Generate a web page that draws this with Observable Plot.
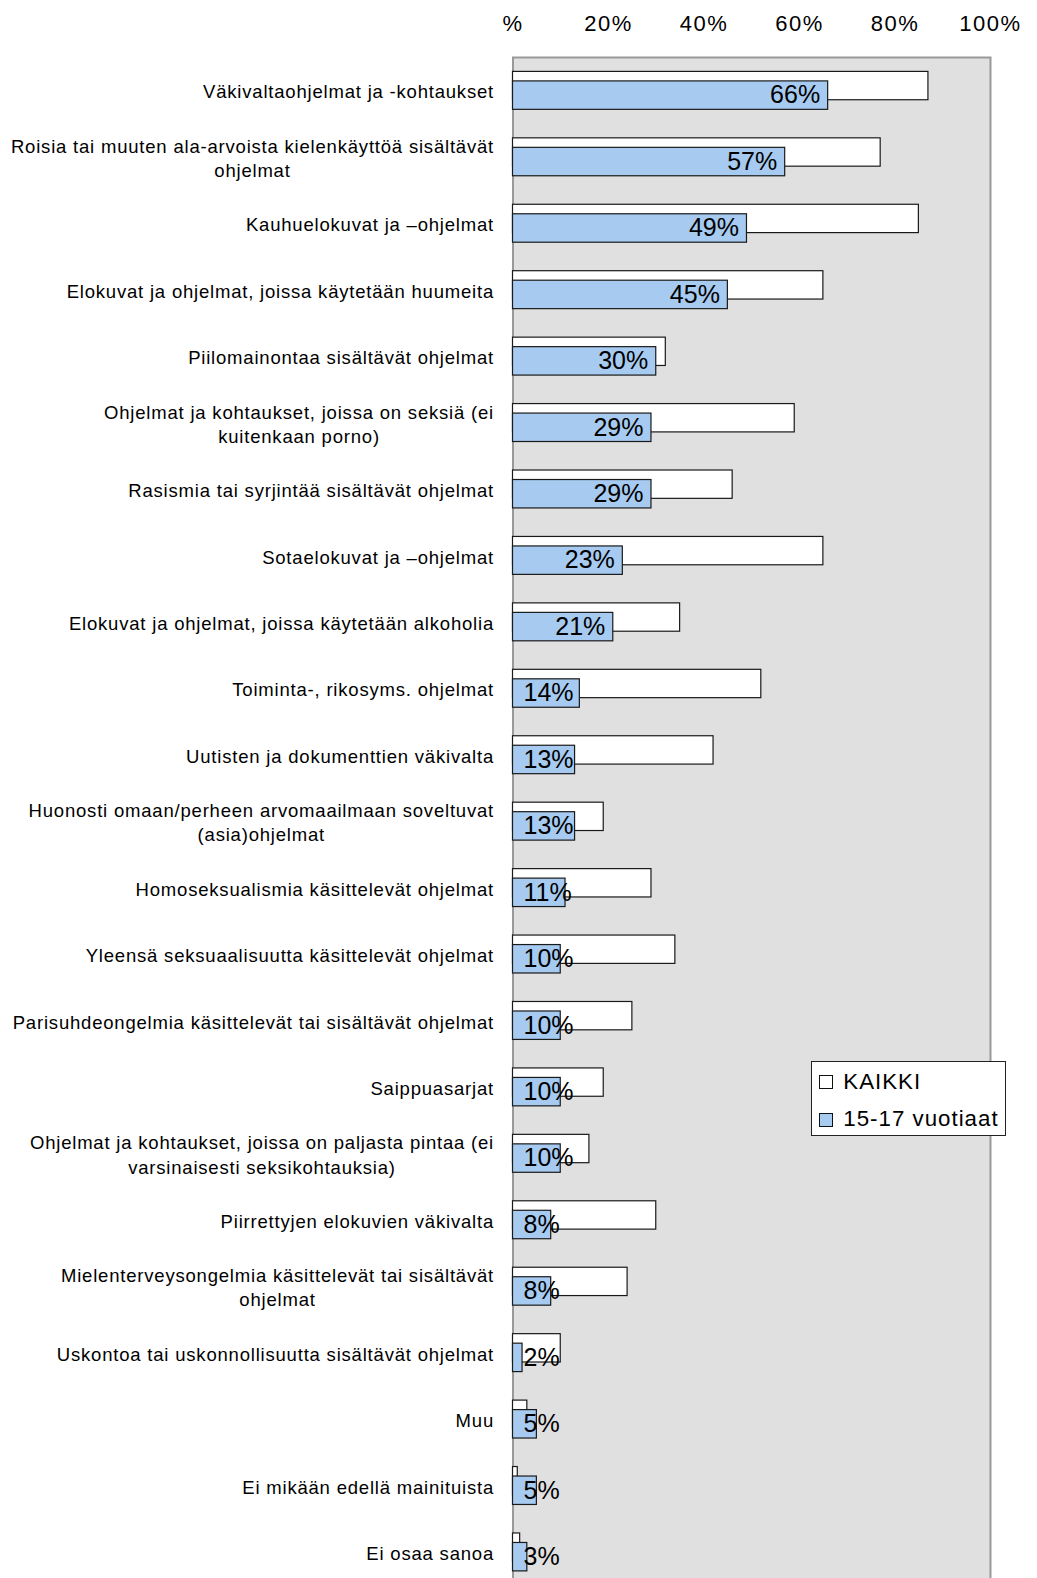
<!DOCTYPE html>
<html><head><meta charset="utf-8">
<script src="https://cdn.jsdelivr.net/npm/d3@7"></script>
<script src="https://cdn.jsdelivr.net/npm/@observablehq/plot@0.6"></script>
<style>
body{margin:0;background:#fff;}
#wrap{position:relative;width:1037px;height:1578px;overflow:hidden;font-family:"Liberation Sans",Arial,sans-serif;}
g[font-size="18.5"]{letter-spacing:0.8px}
g[aria-label="x-axis tick label"]{letter-spacing:1.5px}
#legend{position:absolute;left:810.7px;top:1060.7px;width:195px;height:75px;box-sizing:border-box;border:1px solid #222;background:#fff;}
.sw{position:absolute;left:7.6px;width:14px;height:14px;box-sizing:border-box;border:1px solid #111;}
.lt{position:absolute;left:31.6px;font-size:22.3px;line-height:24px;letter-spacing:1px;white-space:nowrap;color:#000}
</style></head>
<body><div id="wrap"></div>
<script>
const categories = [
  "Väkivaltaohjelmat ja -kohtaukset",
  "Roisia tai muuten ala-arvoista kielenkäyttöä sisältävät\nohjelmat",
  "Kauhuelokuvat ja –ohjelmat",
  "Elokuvat ja ohjelmat, joissa käytetään huumeita",
  "Piilomainontaa sisältävät ohjelmat",
  "Ohjelmat ja kohtaukset, joissa on seksiä (ei\nkuitenkaan porno)",
  "Rasismia tai syrjintää sisältävät ohjelmat",
  "Sotaelokuvat ja –ohjelmat",
  "Elokuvat ja ohjelmat, joissa käytetään alkoholia",
  "Toiminta-, rikosyms. ohjelmat",
  "Uutisten ja dokumenttien väkivalta",
  "Huonosti omaan/perheen arvomaailmaan soveltuvat\n(asia)ohjelmat",
  "Homoseksualismia käsittelevät ohjelmat",
  "Yleensä seksuaalisuutta käsittelevät ohjelmat",
  "Parisuhdeongelmia käsittelevät tai sisältävät ohjelmat",
  "Saippuasarjat",
  "Ohjelmat ja kohtaukset, joissa on paljasta pintaa (ei\nvarsinaisesti seksikohtauksia)",
  "Piirrettyjen elokuvien väkivalta",
  "Mielenterveysongelmia käsittelevät tai sisältävät\nohjelmat",
  "Uskontoa tai uskonnollisuutta sisältävät ohjelmat",
  "Muu",
  "Ei mikään edellä mainituista",
  "Ei osaa sanoa"
];
const kaikki = [87, 77, 85, 65, 32, 59, 46, 65, 35, 52, 42, 19, 29, 34, 25, 19, 16, 30, 24, 10, 3, 1, 1.5];
const nuoret = [66, 57, 49, 45, 30, 29, 29, 23, 21, 14, 13, 13, 11, 10, 10, 10, 10, 8, 8, 2, 5, 5, 3];
const ticks = [0, 20, 40, 60, 80, 100];
const tickLabels = ["%", "20%", "40%", "60%", "80%", "100%"];
const seriesNames = ["KAIKKI", "15-17 vuotiaat"];
const seriesColors = ["#ffffff", "#a6caf0"];

const rows = categories.map((c, i) => ({category: c, kaikki: kaikki[i], nuoret: nuoret[i]}));

const chart = Plot.plot({
  width: 1037,
  height: 1578,
  marginLeft: 512.5,
  marginRight: 47,
  marginTop: 57,
  marginBottom: 0,
  style: {fontFamily: "'Liberation Sans', Arial, sans-serif", background: "white", color: "black"},
  x: {domain: [0, 100], label: null},
  y: {domain: categories, range: [57, 1585], padding: 0, round: false, axis: null},
  marks: [
    Plot.frame({fill: "#e0e0e0", stroke: "#999999", strokeWidth: 2, insetBottom: -20}),
    Plot.axisX({anchor: "top", ticks: ticks, tickFormat: d => tickLabels[ticks.indexOf(d)], tickSize: 0, tickPadding: 27, fontSize: 22, label: null}),
    Plot.barX(rows, {x: "kaikki", y: "category", fill: seriesColors[0], stroke: "#1a1a1a", strokeWidth: 1.2, insetTop: 14.4, insetBottom: 23.7}),
    Plot.barX(rows, {x: "nuoret", y: "category", fill: seriesColors[1], stroke: "#1a1a1a", strokeWidth: 1.2, insetTop: 23.9, insetBottom: 14.1}),
    Plot.text(rows.filter(d => d.nuoret >= 15), {x: "nuoret", y: "category", text: d => d.nuoret + "%", textAnchor: "end", dx: -8, dy: 4.7, fontSize: 25, fill: "#000"}),
    Plot.text(rows.filter(d => d.nuoret < 15), {x: d => 0, y: "category", text: d => d.nuoret + "%", textAnchor: "start", dx: 10.5, dy: 4.7, fontSize: 25, fill: "#000"}),
    Plot.text(rows, {y: "category", text: "category", frameAnchor: "left", textAnchor: "end", dx: -19, fontSize: 18.5, lineHeight: 1.31, fill: "#000"})
  ]
});

const wrap = document.getElementById("wrap");
wrap.appendChild(chart);

// center wrapped lines of multi-line category labels (right edge stays fixed)
chart.querySelectorAll('g[font-size="18.5"] text').forEach(t => {
  const spans = t.querySelectorAll("tspan");
  if (spans.length < 2) return;
  const b = t.getBBox();
  const cx = b.x + b.width / 2;
  t.setAttribute("text-anchor", "middle");
  spans.forEach(s => s.setAttribute("x", cx));
});

// legend
const legend = document.createElement("div");
legend.id = "legend";
seriesNames.forEach((name, i) => {
  const sw = document.createElement("div");
  sw.className = "sw";
  sw.style.top = (13.3 + i * 38.3) + "px";
  sw.style.background = seriesColors[i];
  legend.appendChild(sw);
  const lt = document.createElement("div");
  lt.className = "lt";
  lt.style.top = (7.9 + i * 37.7) + "px";
  lt.textContent = name;
  legend.appendChild(lt);
});
wrap.appendChild(legend);
</script>
</body></html>
